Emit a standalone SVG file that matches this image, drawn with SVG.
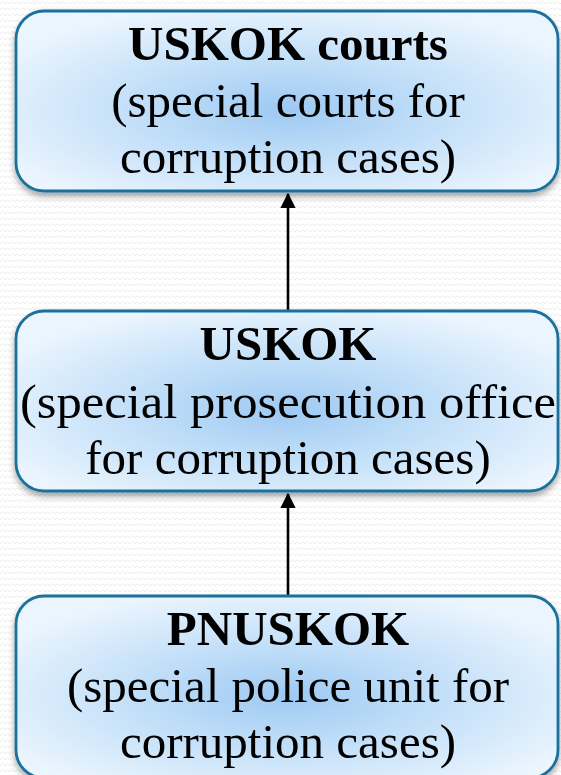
<svg xmlns="http://www.w3.org/2000/svg" width="561" height="775" viewBox="0 0 561 775">
  <defs>
    <pattern id="bg" width="10" height="6" patternUnits="userSpaceOnUse">
      <rect width="10" height="6" fill="#ffffff"/>
      <polyline points="0,4 2.5,1.5 5,4 7.5,1.5 10,4" fill="none" stroke="#ebebeb" stroke-width="1"/>
    </pattern>
    <radialGradient id="fill" cx="50%" cy="55%" r="60%" fx="50%" fy="55%">
      <stop offset="0" stop-color="#9ec9f2"/>
      <stop offset="0.35" stop-color="#b9daf7"/>
      <stop offset="1" stop-color="#ebf5fe"/>
    </radialGradient>
    <filter id="shadow" x="-10%" y="-10%" width="120%" height="130%">
      <feDropShadow dx="0" dy="4" stdDeviation="3" flood-color="#000000" flood-opacity="0.35"/>
    </filter>
    <marker id="arrow" markerWidth="6" markerHeight="6" refX="5.5" refY="3" orient="auto" markerUnits="strokeWidth">
      <path d="M0,0 L6,3 L0,6 Z" fill="#000000"/>
    </marker>
    <style>
      .box { fill: url(#fill); stroke: #1a719c; stroke-width: 2.8; filter: url(#shadow); }
      .t { font-family: "Liberation Serif", "Times New Roman", serif; font-size: 49px; fill: #000000; text-anchor: middle; }
      .b { font-weight: bold; }
      .conn { stroke: #000000; stroke-width: 2.6; fill: none; marker-end: url(#arrow); }
    </style>
  </defs>
  <rect width="561" height="775" fill="url(#bg)"/>

  <g id="connectors">
    <line class="conn" x1="288" y1="310" x2="288" y2="194"/>
    <line class="conn" x1="288" y1="595" x2="288" y2="494"/>
  </g>

  <g id="node-uskok-courts">
    <rect class="box" x="16" y="11" width="542" height="180" rx="28" ry="28"/>
    <text class="t b" x="288" y="60">USKOK courts</text>
    <text class="t" x="288" y="117">(special courts for</text>
    <text class="t" x="288" y="173">corruption cases)</text>
  </g>

  <g id="node-uskok">
    <rect class="box" x="16" y="311" width="542" height="180" rx="28" ry="28"/>
    <text class="t b" x="288" y="360">USKOK</text>
    <text class="t" x="288" y="418" textLength="536" lengthAdjust="spacingAndGlyphs">(special prosecution office</text>
    <text class="t" x="288" y="474">for corruption cases)</text>
  </g>

  <g id="node-pnuskok">
    <rect class="box" x="16" y="596" width="542" height="182" rx="28" ry="28"/>
    <text class="t b" x="288" y="645">PNUSKOK</text>
    <text class="t" x="288" y="702">(special police unit for</text>
    <text class="t" x="288" y="758">corruption cases)</text>
  </g>
</svg>
